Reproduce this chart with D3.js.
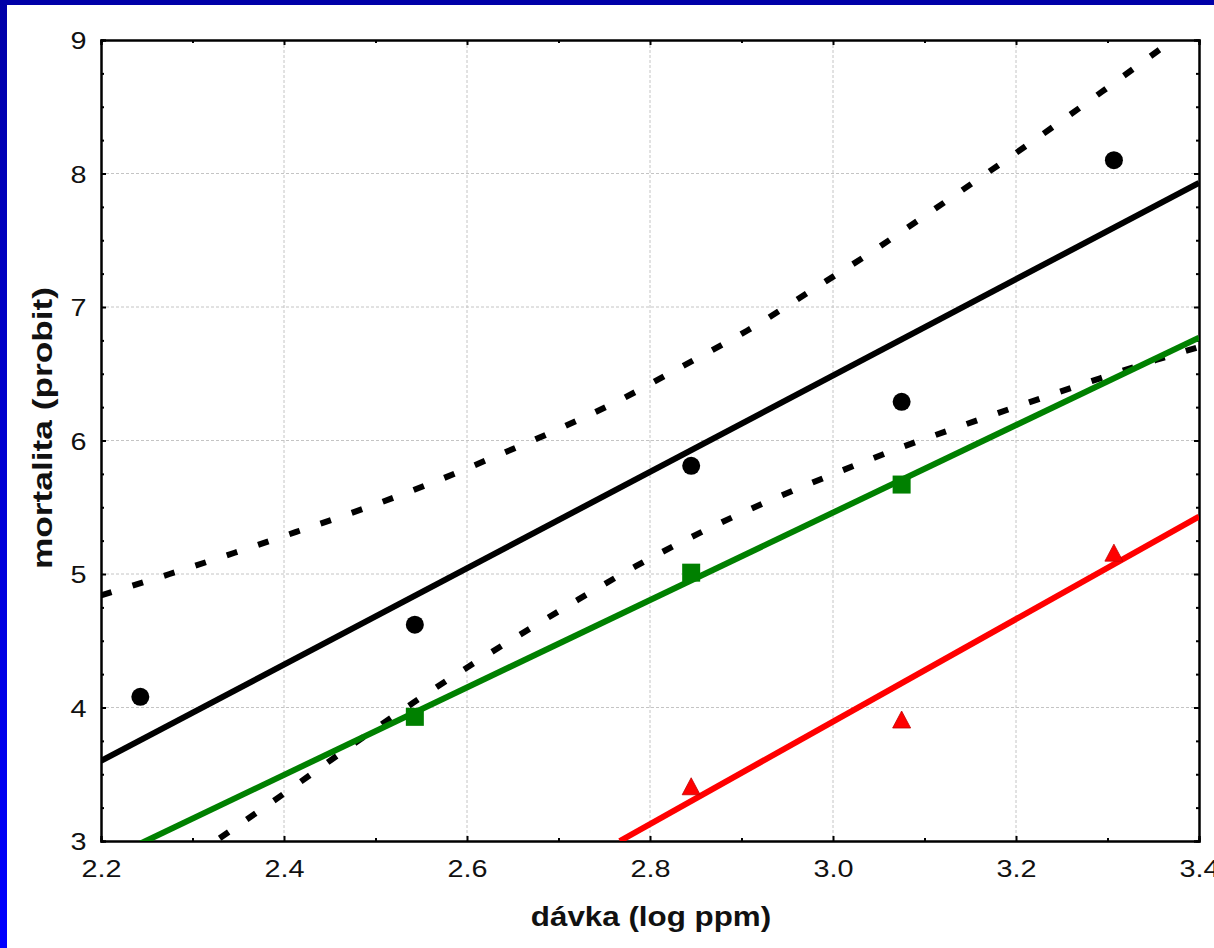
<!DOCTYPE html>
<html>
<head>
<meta charset="utf-8">
<script src="https://cdn.jsdelivr.net/npm/d3@7"></script>
<style>
  html, body { margin: 0; padding: 0; background: #fff; }
  svg { display: block; }
  text { font-family: "Liberation Sans", Arial, sans-serif; }
</style>
</head>
<body>
<svg id="chart" width="1214" height="948"></svg>
<script>
// ---- data ----
const xTicks = [2.2, 2.4, 2.6, 2.8, 3.0, 3.2, 3.4];
const xMinorTicks = [2.3, 2.5, 2.7, 2.9, 3.1, 3.3];
const yTicks = [3, 4, 5, 6, 7, 8, 9];
const yMinorTicks = [3.25, 3.5, 3.75, 4.25, 4.5, 4.75, 5.25, 5.5, 5.75, 6.25, 6.5, 6.75, 7.25, 7.5, 7.75, 8.25, 8.5, 8.75];
const xTitle = "dávka (log ppm)";
const yTitle = "mortalita (probit)";

const blackDose = [2.243, 2.543, 2.845, 3.075, 3.307];
const blackProbit = [4.08, 4.62, 5.81, 6.29, 8.10];
const greenDose = [2.543, 2.845, 3.075];
const greenProbit = [3.93, 5.01, 5.67];
const redDose = [2.845, 3.075, 3.307];
const redProbit = [3.41, 3.91, 5.16];

const blackLineX = [2.2, 3.4];
const blackLineY = [3.60, 7.93];
const greenLineX = [2.2, 3.4];
const greenLineY = [2.84, 6.77];
const redLineX = [2.767, 3.4];
const redLineY = [3.0, 5.43];

const upperX = [2.2, 2.275, 2.346, 2.417, 2.486, 2.556, 2.627, 2.696, 2.767, 2.836, 2.906, 2.977, 3.047, 3.082, 3.153, 3.223, 3.294, 3.364, 3.4];
const upperY = [4.84, 5.0, 5.159, 5.324, 5.487, 5.667, 5.869, 6.073, 6.303, 6.558, 6.822, 7.127, 7.434, 7.597, 7.931, 8.264, 8.613, 8.963, 9.14];
const lowerX = [2.30, 2.332, 2.402, 2.472, 2.542, 2.612, 2.683, 2.719, 2.785, 2.855, 2.928, 2.998, 3.069, 3.140, 3.211, 3.281, 3.353, 3.4];
const lowerY = [2.88, 3.032, 3.365, 3.707, 4.039, 4.351, 4.650, 4.798, 5.060, 5.310, 5.542, 5.742, 5.934, 6.109, 6.278, 6.441, 6.603, 6.70];

// ---- layout ----
const svg = d3.select("#chart");
const W = 1214, H = 948;
const mLeft = 101, mRight = 1199, mTop = 40, mBottom = 841;

// blue frame (slide background)
const defs = svg.append("defs");
const grad = defs.append("linearGradient").attr("id", "bg").attr("x1", 0).attr("y1", 0).attr("x2", 0).attr("y2", 1);
grad.append("stop").attr("offset", "0%").attr("stop-color", "#0000a8");
grad.append("stop").attr("offset", "100%").attr("stop-color", "#0000ff");
svg.append("rect").attr("x", 0).attr("y", 0).attr("width", W).attr("height", H).attr("fill", "url(#bg)");
svg.append("rect").attr("x", 7).attr("y", 5).attr("width", W - 7).attr("height", H - 5).attr("fill", "#fff");

defs.append("clipPath").attr("id", "clip")
  .append("rect").attr("x", mLeft).attr("y", mTop).attr("width", mRight - mLeft).attr("height", mBottom - mTop);

const x = d3.scaleLinear().domain([2.2, 3.4]).range([mLeft, mRight]);
const y = d3.scaleLinear().domain([3, 9]).range([mBottom, mTop]);

// grid
const grid = svg.append("g");
grid.selectAll("line.gx").data(xTicks.slice(1, -1)).join("line")
  .attr("x1", d => x(d)).attr("x2", d => x(d)).attr("y1", mTop).attr("y2", mBottom)
  .attr("stroke", "#c4c4c4").attr("stroke-width", 1).attr("stroke-dasharray", "3,2");
grid.selectAll("line.gy").data(yTicks.slice(1, -1)).join("line")
  .attr("y1", d => y(d)).attr("y2", d => y(d)).attr("x1", mLeft).attr("x2", mRight)
  .attr("stroke", "#c4c4c4").attr("stroke-width", 1).attr("stroke-dasharray", "3,2");

// axes with inward ticks
const fmt = d3.format(".1f");
const axB = svg.append("g").attr("transform", `translate(0,${mBottom})`)
  .call(d3.axisBottom(x).tickValues(xTicks).tickSize(-5).tickPadding(19).tickFormat(fmt));
const axT = svg.append("g").attr("transform", `translate(0,${mTop})`)
  .call(d3.axisTop(x).tickValues(xTicks).tickSize(-5).tickFormat(""));
const axL = svg.append("g").attr("transform", `translate(${mLeft},0)`)
  .call(d3.axisLeft(y).tickValues(yTicks).tickSize(-5).tickPadding(12).tickFormat(d3.format("d")));
const axR = svg.append("g").attr("transform", `translate(${mRight},0)`)
  .call(d3.axisRight(y).tickValues(yTicks).tickSize(-5).tickFormat(""));
// minor ticks
svg.append("g").attr("transform", `translate(0,${mBottom})`)
  .call(d3.axisBottom(x).tickValues(xMinorTicks).tickSize(-3).tickFormat(""));
svg.append("g").attr("transform", `translate(0,${mTop})`)
  .call(d3.axisTop(x).tickValues(xMinorTicks).tickSize(-3).tickFormat(""));
svg.append("g").attr("transform", `translate(${mLeft},0)`)
  .call(d3.axisLeft(y).tickValues(yMinorTicks).tickSize(-3).tickFormat(""));
svg.append("g").attr("transform", `translate(${mRight},0)`)
  .call(d3.axisRight(y).tickValues(yMinorTicks).tickSize(-3).tickFormat(""));

svg.selectAll(".domain").attr("stroke", "#000").attr("stroke-width", 2);
svg.selectAll(".tick line").attr("stroke", "#000").attr("stroke-width", 2);
svg.selectAll(".tick text").attr("fill", "#111").attr("font-size", 24)
  .attr("font-family", "'Liberation Sans', Arial, sans-serif")
  .attr("transform", "scale(1.2,1)");
axL.selectAll(".tick text").attr("dy", "0.36em");

// titles
svg.append("text").attr("transform", `translate(${651},926) scale(1.12,1)`).attr("text-anchor", "middle")
  .attr("font-size", 28).attr("font-weight", "bold").attr("fill", "#111").text(xTitle);
svg.append("text").attr("transform", `translate(52,428) rotate(-90) scale(1.26,1)`)
  .attr("text-anchor", "middle").attr("font-size", 28).attr("font-weight", "bold").attr("fill", "#111").text(yTitle);

// data
const plot = svg.append("g").attr("clip-path", "url(#clip)");
const line = d3.line().x(d => x(d[0])).y(d => y(d[1]));
const curve = d3.line().x(d => x(d[0])).y(d => y(d[1])).curve(d3.curveMonotoneX);

plot.append("path").datum(d3.zip(upperX, upperY)).attr("d", curve)
  .attr("fill", "none").attr("stroke", "#000").attr("stroke-width", 6).attr("stroke-dasharray", "11,22");
plot.append("path").datum(d3.zip(lowerX, lowerY)).attr("d", curve)
  .attr("fill", "none").attr("stroke", "#000").attr("stroke-width", 6).attr("stroke-dasharray", "11,22");

plot.append("path").datum(d3.zip(blackLineX, blackLineY)).attr("d", line)
  .attr("fill", "none").attr("stroke", "#000").attr("stroke-width", 6);
plot.append("path").datum(d3.zip(greenLineX, greenLineY)).attr("d", line)
  .attr("fill", "none").attr("stroke", "#008000").attr("stroke-width", 6);
plot.append("path").datum(d3.zip(redLineX, redLineY)).attr("d", line)
  .attr("fill", "none").attr("stroke", "#ff0000").attr("stroke-width", 6);

plot.selectAll("circle.b").data(d3.zip(blackDose, blackProbit)).join("circle")
  .attr("cx", d => x(d[0])).attr("cy", d => y(d[1])).attr("r", 9).attr("fill", "#000");
plot.selectAll("rect.g").data(d3.zip(greenDose, greenProbit)).join("rect")
  .attr("x", d => x(d[0]) - 9).attr("y", d => y(d[1]) - 9).attr("width", 18).attr("height", 18).attr("fill", "#008000");
plot.selectAll("path.r").data(d3.zip(redDose, redProbit)).join("path")
  .attr("transform", d => `translate(${x(d[0])},${y(d[1])})`)
  .attr("d", "M0,-8.5 L9,8.5 L-9,8.5 Z")
  .attr("fill", "#ff0000").attr("stroke", "#c00000").attr("stroke-width", 0.8);
</script>
</body>
</html>
